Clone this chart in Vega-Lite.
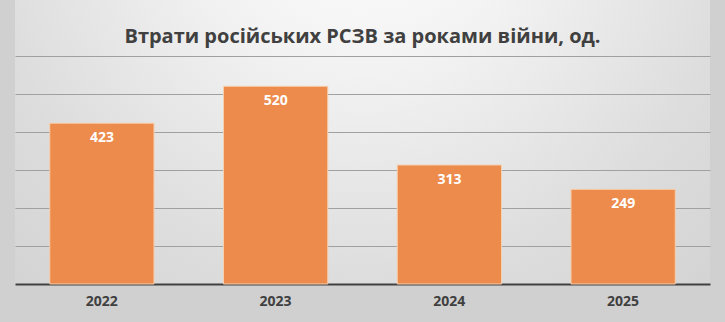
{
  "$schema": "https://vega.github.io/schema/vega-lite/v6.json",
  "autosize": {"type": "none"},
  "width": 695,
  "height": 284,
  "padding": {"left": 15, "top": 0, "right": 15, "bottom": 38},
  "background": "#d0d0d0",
  "title": {
    "text": "Втрати російських РСЗВ за роками війни, од.",
    "font": "Open Sans",
    "fontSize": 20,
    "fontWeight": "bold",
    "color": "#404040",
    "anchor": "middle",
    "offset": -47
  },
  "data": {
    "values": [
      {"year": "2022", "losses": 423},
      {"year": "2023", "losses": 520},
      {"year": "2024", "losses": 313},
      {"year": "2025", "losses": 249}
    ]
  },
  "encoding": {
    "x": {
      "field": "year",
      "type": "ordinal",
      "title": null,
      "scale": {"paddingInner": 0.4, "paddingOuter": 0.2},
      "axis": {
        "labelAngle": 0,
        "labelFont": "Open Sans",
        "labelFontSize": 14,
        "labelFontWeight": "bold",
        "labelColor": "#404040",
        "labelPadding": 10,
        "domainColor": "#404040",
        "domainWidth": 2,
        "ticks": false,
        "grid": false
      }
    },
    "y": {
      "field": "losses",
      "type": "quantitative",
      "title": null,
      "scale": {"domain": [0, 747], "nice": false},
      "axis": {
        "values": [100, 200, 300, 400, 500, 600],
        "labels": false,
        "ticks": false,
        "domain": false,
        "grid": true,
        "gridColor": "#a0a0a0",
        "gridWidth": 1
      }
    }
  },
  "layer": [
    {
      "mark": {"type": "bar", "color": "#ec8b4c", "stroke": "#f6cfae", "strokeWidth": 1}
    },
    {
      "mark": {
        "type": "text",
        "baseline": "middle",
        "dy": 15,
        "color": "white",
        "font": "Open Sans",
        "fontSize": 14,
        "fontWeight": "bold"
      },
      "encoding": {"text": {"field": "losses", "type": "quantitative"}}
    }
  ],
  "config": {
    "view": {
      "stroke": null,
      "fill": {
        "gradient": "radial",
        "x1": 0.5, "y1": 0.15, "r1": 0,
        "x2": 0.5, "y2": 0.15, "r2": 1.0,
        "stops": [
          {"offset": 0, "color": "#ffffff"},
          {"offset": 0.25, "color": "#f2f2f2"},
          {"offset": 0.55, "color": "#dddddd"},
          {"offset": 1, "color": "#c8c8c8"}
        ]
      }
    }
  }
}
